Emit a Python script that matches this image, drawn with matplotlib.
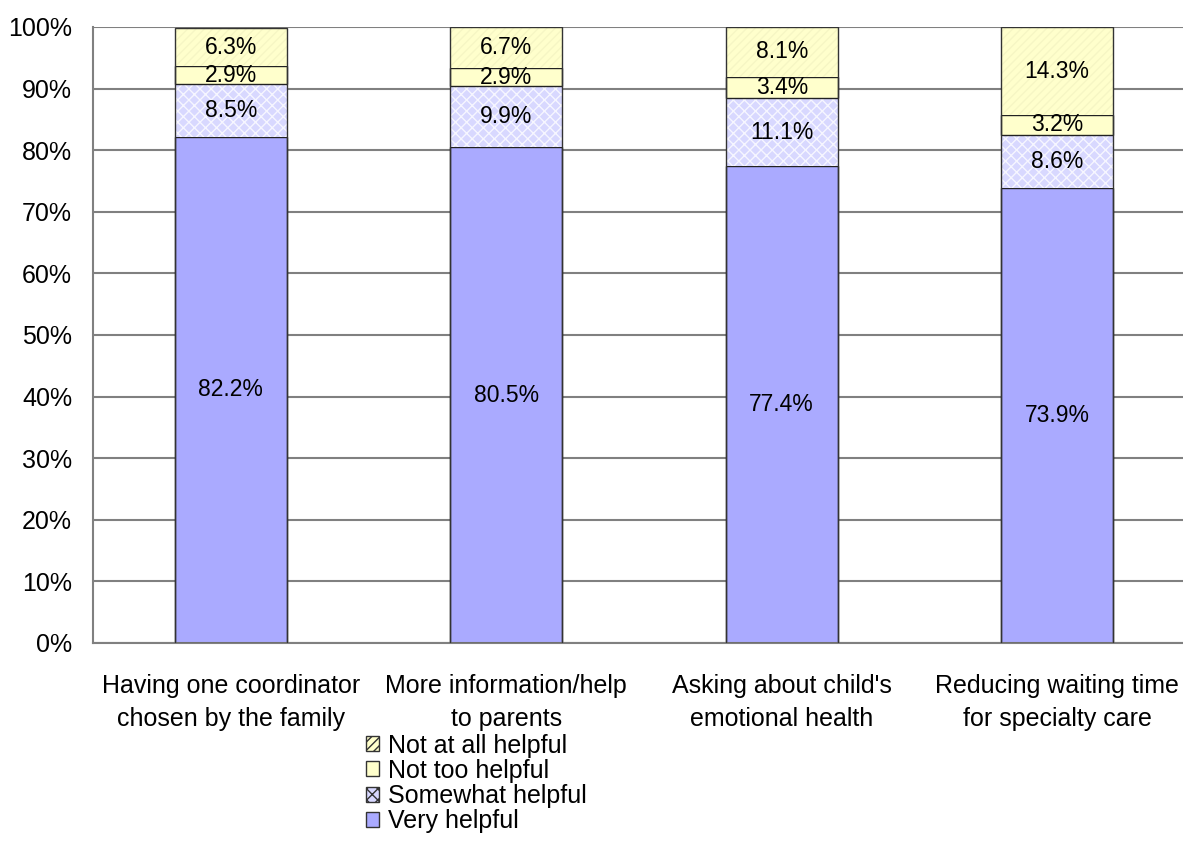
import numpy as np
from matplotlib import pyplot as plt
from matplotlib.patches import Patch

categories = ["Having one coordinator\nchosen by the family",
              "More information/help\nto parents",
              "Asking about child's\nemotional health",
              "Reducing waiting time\nfor specialty care"]
very_helpful = [82.2, 80.5, 77.4, 73.9]
somewhat_helpful = [8.5, 9.9, 11.1, 8.6]
not_too_helpful = [2.9, 2.9, 3.4, 3.2]
not_at_all_helpful = [6.3, 6.7, 8.1, 14.3]
y_ticks = np.arange(0, 101, 10)

plt.rcParams['font.family'] = ['Liberation Sans', 'DejaVu Sans']
plt.rcParams['hatch.linewidth'] = 1.0

fig = plt.figure(figsize=(11.83, 8.61), dpi=100)
# plot area runs a bit past the right edge of the figure, like the original
ax = fig.add_axes([93 / 1183, 1 - 643 / 861, 1102 / 1183, 616 / 861])

x = np.arange(len(categories))
width = 0.405

series = [
    ("Very helpful", very_helpful, dict(color="#AAAAFF", edgecolor="#222222", linewidth=1.0)),
    ("Somewhat helpful", somewhat_helpful, dict(color="#D8D8FF", edgecolor="#F6F6FF", linewidth=0, hatch="xxx")),
    ("Not too helpful", not_too_helpful, dict(color="#FFFFCC", edgecolor="#222222", linewidth=1.0)),
    ("Not at all helpful", not_at_all_helpful, dict(color="#FFFFCC", edgecolor="#F6F6C4", linewidth=0, hatch="////")),
]

bottom = np.zeros(len(categories))
for name, vals, style in series:
    vals = np.array(vals)
    ax.bar(x, vals, width, bottom=bottom, zorder=2, **style)
    for xi, b, v in zip(x, bottom, vals):
        ax.text(xi, b + v / 2, f"{v:.1f}%", ha="center", va="center", fontsize=16.5, zorder=4)
    bottom = bottom + vals

# dark sides of each bar
ax.bar(x, bottom, width, fill=False, edgecolor="#333333", linewidth=1.0, zorder=3)

ax.set_xlim(-0.5, 3.5)
ax.set_ylim(0, 100)
ax.set_yticks(y_ticks)
ax.set_yticklabels([f"{t}%" for t in y_ticks], fontsize=18)
ax.yaxis.grid(True, color="#808080", linewidth=1.5, zorder=0)
ax.set_axisbelow(True)
ax.tick_params(axis="y", length=0, pad=15)
ax.set_xticks(x)
ax.set_xticklabels(categories, fontsize=18, linespacing=1.5)
ax.tick_params(axis="x", length=0, pad=22)
for s in ["top", "right"]:
    ax.spines[s].set_visible(False)
ax.spines["left"].set_color("#808080")
ax.spines["bottom"].set_color("#808080")
ax.spines["left"].set_linewidth(1.5)
ax.spines["bottom"].set_linewidth(1.5)

handles = [Patch(facecolor=st["color"], edgecolor="#333333", hatch=st.get("hatch"), label=n)
           for n, v, st in series][::-1]
fig.legend(handles=handles, loc="upper left", bbox_to_anchor=(353 / 1183, 1 - 721 / 861),
           frameon=False, fontsize=18, handlelength=0.55, handleheight=0.55,
           handletextpad=0.35, labelspacing=0.05, borderpad=0)

fig.savefig("out.png", dpi=100)
